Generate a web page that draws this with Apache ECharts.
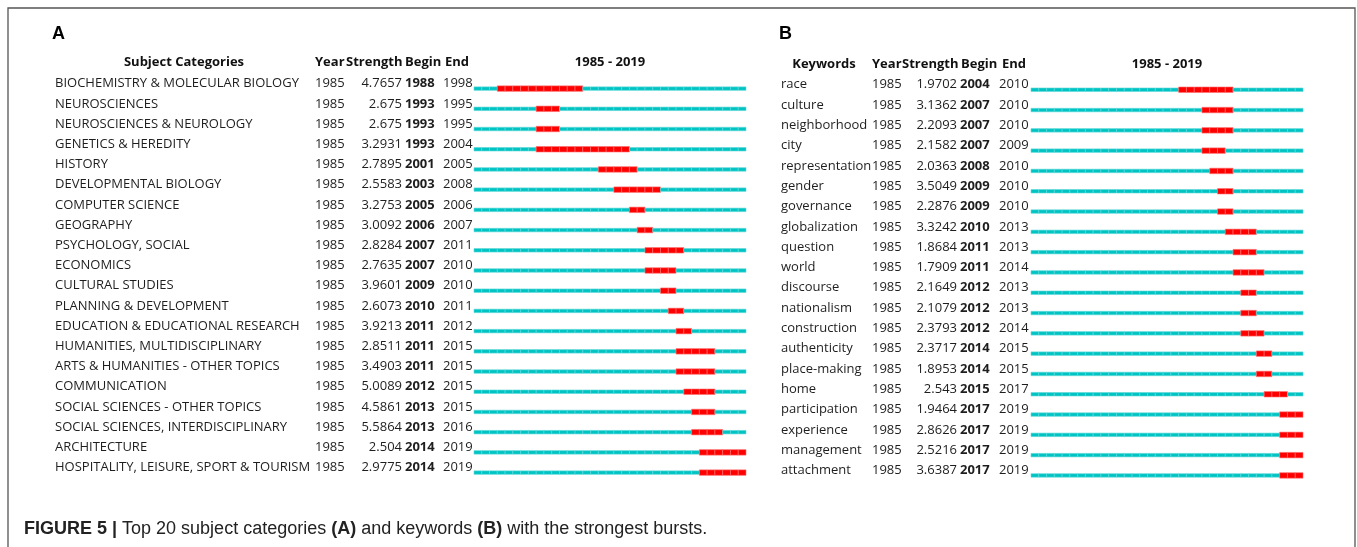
<!DOCTYPE html>
<html>
<head>
<meta charset="utf-8">
<script src="https://cdn.jsdelivr.net/npm/echarts@6/dist/echarts.min.js"></script>
<style>html,body{margin:0;padding:0;background:#fff}#c{width:1357px;height:547px}</style>
</head>
<body>
<div id="c"></div>
<script>
const YEAR_START = 1985;
const YEAR_END = 2019;

const catNames = ['BIOCHEMISTRY & MOLECULAR BIOLOGY','NEUROSCIENCES','NEUROSCIENCES & NEUROLOGY','GENETICS & HEREDITY','HISTORY','DEVELOPMENTAL BIOLOGY','COMPUTER SCIENCE','GEOGRAPHY','PSYCHOLOGY, SOCIAL','ECONOMICS','CULTURAL STUDIES','PLANNING & DEVELOPMENT','EDUCATION & EDUCATIONAL RESEARCH','HUMANITIES, MULTIDISCIPLINARY','ARTS & HUMANITIES - OTHER TOPICS','COMMUNICATION','SOCIAL SCIENCES - OTHER TOPICS','SOCIAL SCIENCES, INTERDISCIPLINARY','ARCHITECTURE','HOSPITALITY, LEISURE, SPORT & TOURISM'];
const catYear = [1985,1985,1985,1985,1985,1985,1985,1985,1985,1985,1985,1985,1985,1985,1985,1985,1985,1985,1985,1985];
const catStrength = ['4.7657','2.675','2.675','3.2931','2.7895','2.5583','3.2753','3.0092','2.8284','2.7635','3.9601','2.6073','3.9213','2.8511','3.4903','5.0089','4.5861','5.5864','2.504','2.9775'];
const catBegin = [1988,1993,1993,1993,2001,2003,2005,2006,2007,2007,2009,2010,2011,2011,2011,2012,2013,2013,2014,2014];
const catEnd = [1998,1995,1995,2004,2005,2008,2006,2007,2011,2010,2010,2011,2012,2015,2015,2015,2015,2016,2019,2019];

const kwNames = ['race','culture','neighborhood','city','representation','gender','governance','globalization','question','world','discourse','nationalism','construction','authenticity','place-making','home','participation','experience','management','attachment'];
const kwYear = [1985,1985,1985,1985,1985,1985,1985,1985,1985,1985,1985,1985,1985,1985,1985,1985,1985,1985,1985,1985];
const kwStrength = ['1.9702','3.1362','2.2093','2.1582','2.0363','3.5049','2.2876','3.3242','1.8684','1.7909','2.1649','2.1079','2.3793','2.3717','1.8953','2.543','1.9464','2.8626','2.5216','3.6387'];
const kwBegin = [2004,2007,2007,2007,2008,2009,2009,2010,2011,2011,2012,2012,2012,2014,2014,2015,2017,2017,2017,2017];
const kwEnd = [2010,2010,2010,2009,2010,2010,2010,2013,2013,2014,2013,2013,2014,2015,2015,2017,2019,2019,2019,2019];

const FONT = '"Open Sans", "Noto Sans", sans-serif';
const FS = 13;
const TXT = '#1e1e1e';

function colAxis(gridIndex, data, align, margin, bold) {
  return {
    type: 'category', gridIndex: gridIndex, data: data.map(String), inverse: true, position: 'left',
    axisLine: {show: false}, axisTick: {show: false}, splitLine: {show: false},
    axisLabel: {interval: 0, align: align, margin: margin, color: TXT, fontFamily: FONT, fontSize: FS, fontWeight: bold ? 'bold' : 'normal'}
  };
}

function renderBurst(params, api) {
  const idx = api.value(0);
  const b = api.value(1), e = api.value(2);
  const yc = api.coord([YEAR_START, idx])[1] + 5;
  const children = [];
  for (let yr = YEAR_START; yr <= YEAR_END; yr++) {
    const x0 = api.coord([yr, idx])[0];
    const x1 = api.coord([yr + 1, idx])[0];
    const red = yr >= b && yr <= e;
    const h = red ? 5.5 : 3.5;
    children.push({
      type: 'rect',
      shape: {x: x0, y: yc - h / 2, width: x1 - x0, height: h},
      style: {fill: red ? '#ff0000' : '#00c4c4', stroke: red ? '#ff7070' : '#60d8d8', lineWidth: 0.6}
    });
  }
  return {type: 'group', children: children};
}

const catData = catNames.map((n, i) => [i, catBegin[i], catEnd[i]]);
const kwData = kwNames.map((n, i) => [i, kwBegin[i], kwEnd[i]]);

const chart = echarts.init(document.getElementById('c'), null, {renderer: 'canvas'});

const hdr = {fontFamily: FONT, fontSize: 13, fontWeight: 'bold', fill: '#111'};
function htext(x, y, text, align) {
  return {type: 'text', x: x, y: y, style: Object.assign({text: text, textAlign: align || 'left', textVerticalAlign: 'middle'}, hdr)};
}
const CAP_FONT = '"Liberation Sans", Arial, sans-serif';

chart.setOption({
  animation: false,
  grid: [
    {left: 474, width: 272, top: 73.5, height: 404.2, containLabel: false},
    {left: 1031, width: 272, top: 74.6, height: 406, containLabel: false}
  ],
  xAxis: [
    {type: 'value', gridIndex: 0, min: YEAR_START, max: YEAR_END + 1, show: false},
    {type: 'value', gridIndex: 1, min: YEAR_START, max: YEAR_END + 1, show: false}
  ],
  yAxis: [
    colAxis(0, catNames, 'left', 474 - 55, false),
    colAxis(0, catYear, 'left', 474 - 315, false),
    colAxis(0, catStrength, 'right', 474 - 402, false),
    colAxis(0, catBegin, 'left', 474 - 405, true),
    colAxis(0, catEnd, 'left', 474 - 443, false),
    colAxis(1, kwNames, 'left', 1031 - 781, false),
    colAxis(1, kwYear, 'left', 1031 - 872, false),
    colAxis(1, kwStrength, 'right', 1031 - 957, false),
    colAxis(1, kwBegin, 'left', 1031 - 960, true),
    colAxis(1, kwEnd, 'left', 1031 - 999, false)
  ],
  series: [
    {type: 'custom', xAxisIndex: 0, yAxisIndex: 0, renderItem: renderBurst, data: catData, encode: {x: [1, 2], y: 0}},
    {type: 'custom', xAxisIndex: 1, yAxisIndex: 5, renderItem: renderBurst, data: kwData, encode: {x: [1, 2], y: 0}}
  ],
  graphic: [
    {type: 'rect', shape: {x: 8, y: 8, width: 1347, height: 600}, style: {fill: 'none', stroke: '#555', lineWidth: 1.3}, silent: true},
    {type: 'text', x: 52, y: 34, style: {text: 'A', fontFamily: CAP_FONT, fontSize: 18, fontWeight: 'bold', fill: '#000', textVerticalAlign: 'middle'}},
    {type: 'text', x: 779, y: 34, style: {text: 'B', fontFamily: CAP_FONT, fontSize: 18, fontWeight: 'bold', fill: '#000', textVerticalAlign: 'middle'}},
    htext(184, 62.5, 'Subject Categories', 'center'),
    htext(315, 62.5, 'Year'),
    htext(346, 62.5, 'Strength'),
    htext(405, 62.5, 'Begin'),
    htext(445, 62.5, 'End'),
    htext(610, 62.5, '1985 - 2019', 'center'),
    htext(824, 64.3, 'Keywords', 'center'),
    htext(872, 64.3, 'Year'),
    htext(902, 64.3, 'Strength'),
    htext(961, 64.3, 'Begin'),
    htext(1002, 64.3, 'End'),
    htext(1167, 64.3, '1985 - 2019', 'center'),
    {type: 'text', x: 24, y: 529, style: {
      text: '{b|FIGURE 5 |} Top 20 subject categories {b|(A)} and keywords {b|(B)} with the strongest bursts.',
      fontFamily: CAP_FONT, fontSize: 18, fill: '#222', textVerticalAlign: 'middle',
      rich: {b: {fontFamily: CAP_FONT, fontSize: 18, fontWeight: 'bold', fill: '#222'}}
    }}
  ]
});
</script>
</body>
</html>
